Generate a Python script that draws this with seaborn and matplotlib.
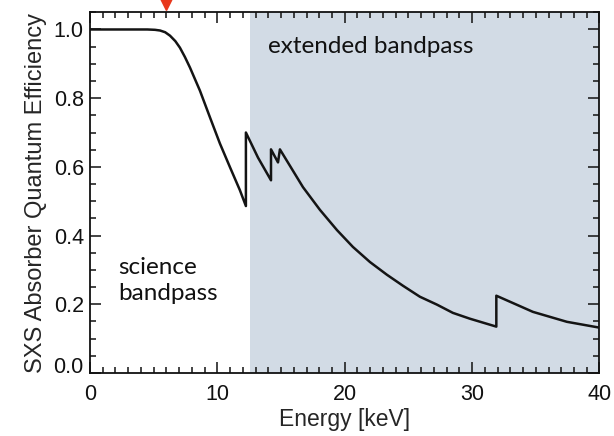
import matplotlib
matplotlib.use("Agg")
import matplotlib.pyplot as plt
import seaborn as sns
import numpy as np
import pandas as pd
from matplotlib.ticker import MultipleLocator

# Data
energy_kev = [0, 4.5, 5.1, 5.5, 5.9, 6.28, 6.7, 7.06, 7.45, 7.85, 8.63, 9.42, 10.2,
              10.99, 11.77, 12.24, 12.24, 13.19, 14.21, 14.21, 14.76, 14.91, 16.72,
              18.05, 19.39, 20.64, 21.98, 23.31, 24.57, 25.9, 27.24, 28.49, 29.83,
              31.9, 31.9, 34.77, 37.44, 40]
efficiency = [1.0, 1.0, 0.999, 0.997, 0.992, 0.982, 0.966, 0.947, 0.92, 0.889, 0.822,
              0.744, 0.668, 0.599, 0.532, 0.486, 0.700, 0.627, 0.561, 0.651, 0.613,
              0.651, 0.541, 0.475, 0.416, 0.367, 0.323, 0.286, 0.254, 0.222, 0.199,
              0.175, 0.158, 0.135, 0.225, 0.178, 0.149, 0.132]
extended_start = 12.6
extended_end = 40
marker_energy = 6.0
x_ticks = [0, 10, 20, 30, 40]
y_ticks = [0.0, 0.2, 0.4, 0.6, 0.8, 1.0]

df = pd.DataFrame({"Energy": energy_kev, "QE": efficiency})

sns.set_theme(style="ticks")
plt.rcParams['font.family'] = ['Liberation Sans', 'DejaVu Sans']

fig = plt.figure(figsize=(6.14, 4.36), dpi=100)
ax = fig.add_axes([0.14658, 0.1445, 0.97638 - 0.14658, 0.97179 - 0.1445])

ax.axvspan(extended_start, extended_end, color="#d2dbe5", lw=0, zorder=0)
sns.lineplot(data=df, x="Energy", y="QE", sort=False, estimator=None,
             color="#141414", lw=1.8, ax=ax, zorder=3)

ax.set_xlim(0, 40)
ax.set_ylim(0, 1.05)
ax.set_xticks(x_ticks)
ax.set_yticks(y_ticks)
ax.set_xticklabels([str(t) for t in x_ticks])
ax.set_yticklabels([f"{t:.1f}" for t in y_ticks])
ax.xaxis.set_minor_locator(MultipleLocator(1))
ax.yaxis.set_minor_locator(MultipleLocator(0.05))
ax.tick_params(which="both", direction="in", top=True, right=True, colors="#111111",
               labelsize=15.5, width=1.1)
ax.tick_params(which="major", length=8)
ax.tick_params(axis="y", which="major", pad=4.5)
ax.tick_params(axis="x", which="major", pad=8)
ax.tick_params(which="minor", length=4)
ax.get_yticklabels()[0].set_va("baseline")
for s in ax.spines.values():
    s.set_linewidth(1.3)
    s.set_color("#111111")

ax.set_xlabel("Energy [keV]", fontsize=16.5, labelpad=2)
ax.set_ylabel("SXS Absorber Quantum Efficiency", fontsize=17, labelpad=5)

ax.text(13.97, 0.949, "extended bandpass", fontsize=17.5, family=["Lato", "DejaVu Sans"],
        color="#111111", va="center", ha="left")
ax.text(2.2, 0.268, "science\nbandpass", fontsize=17.5, family=["Lato", "DejaVu Sans"],
        color="#111111", va="center", ha="left", linespacing=1.3)

ax.plot([marker_energy], [1.085], marker="v", markersize=14.5, color="#e8381c",
        clip_on=False, zorder=5)

fig.savefig("out.png", dpi=100)
